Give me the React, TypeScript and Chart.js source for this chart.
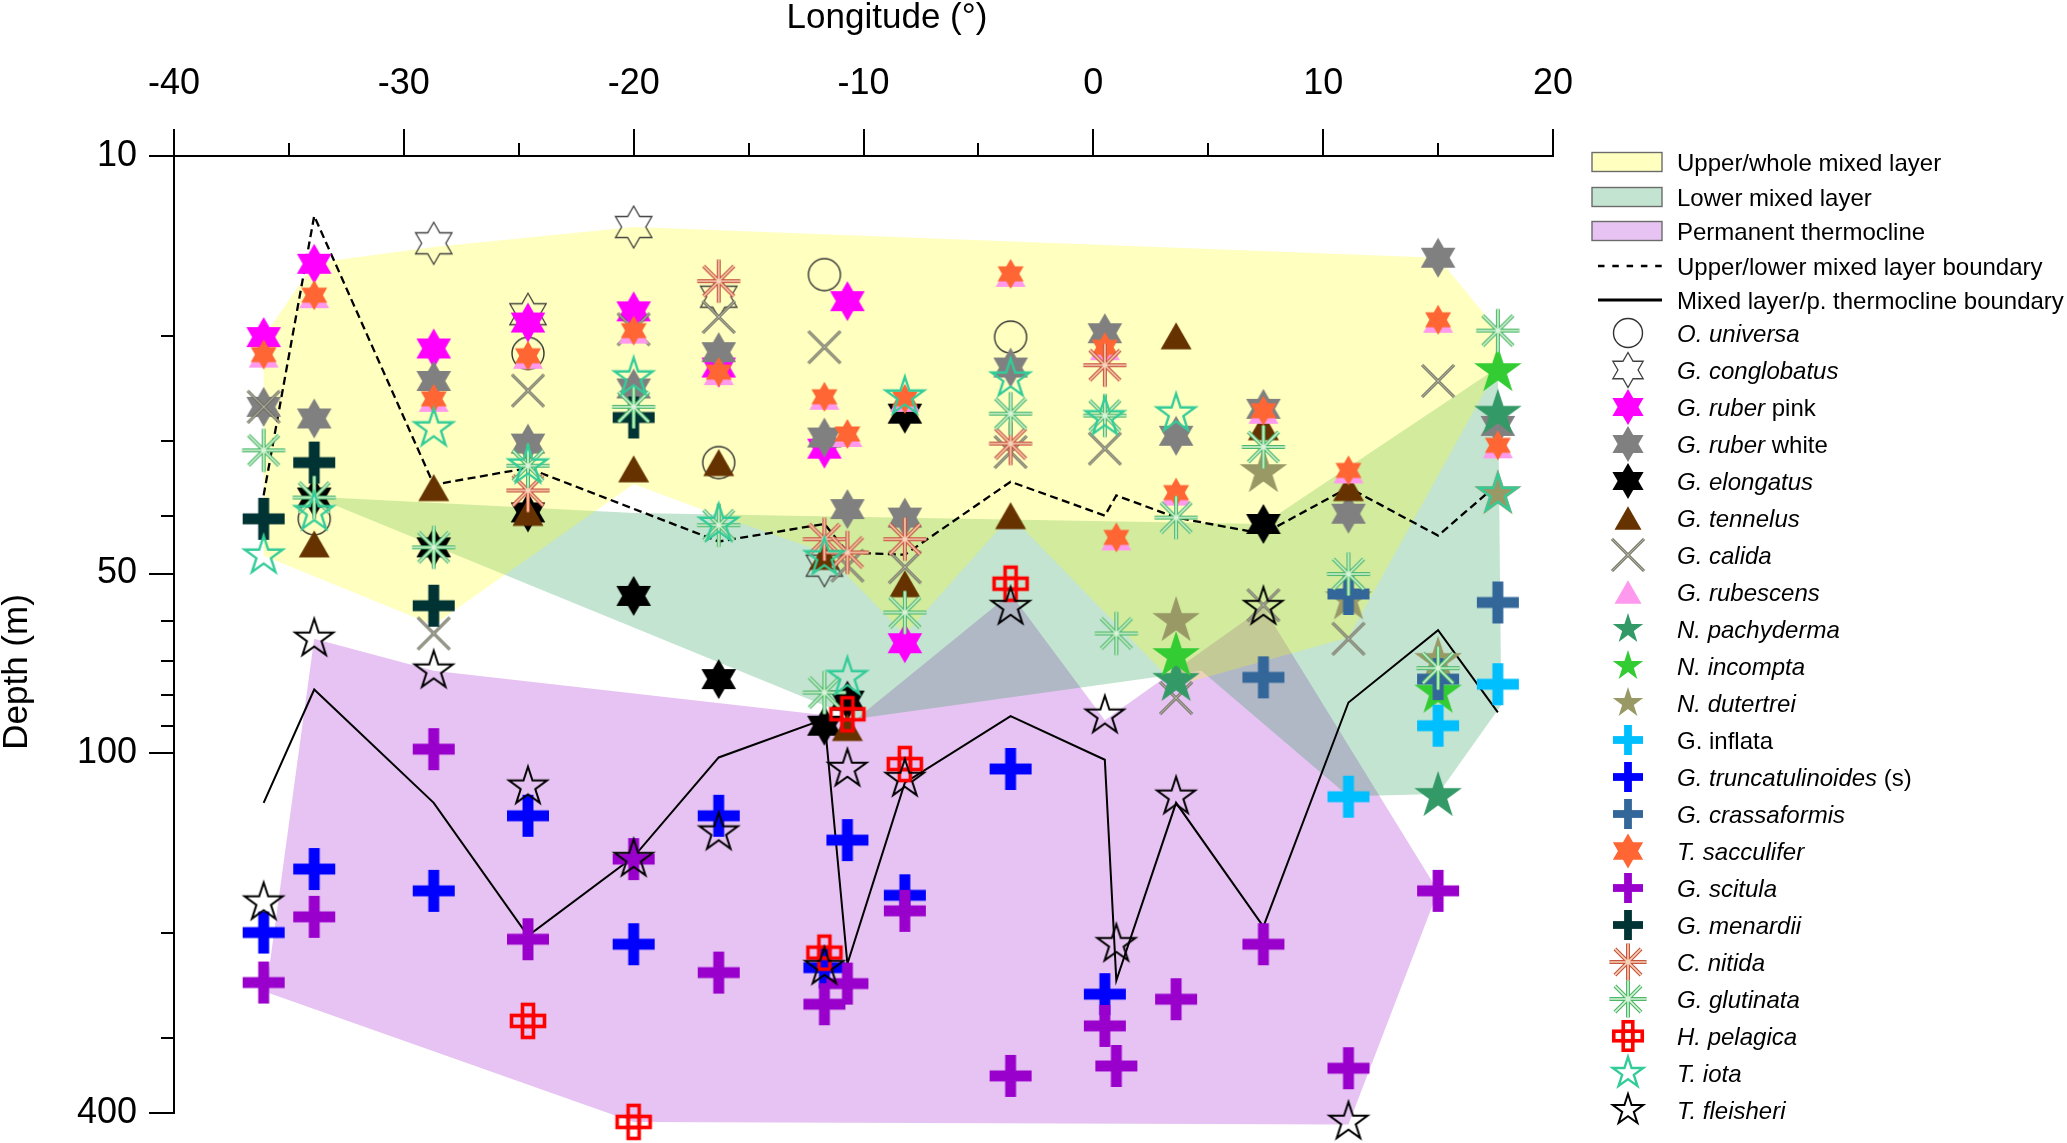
import React, { useEffect, useRef } from 'react';
import { Chart, registerables } from 'chart.js';

Chart.register(...registerables);

const FONT = '"Liberation Sans", Arial, Helvetica, sans-serif';

// ---------- axis ticks ----------
const xTickValues = [-40, -30, -20, -10, 0, 10, 20];
const xMinorTickValues = [-35, -25, -15, -5, 5, 15];
const yTickValues = [10, 20, 30, 40, 50, 60, 70, 80, 90, 100, 200, 300, 400];
const yLabelValues = [10, 50, 100, 400];

// ---------- boundary lines [longitude, depth] ----------
const upperLowerBoundary = [[-36.1, 37.0], [-33.9, 12.6], [-28.7, 35.5], [-24.6, 33.3], [-16.3, 44.2], [-11.7, 41.3], [-10.7, 46.1], [-8.2, 46.5], [-3.6, 35.1], [0.5, 40.0], [1.0, 37.0], [3.6, 40.3], [7.4, 42.9], [11.1, 35.9], [15.0, 43.2], [17.6, 35.4]];
const mixedThermoBoundary = [[-36.1, 121], [-33.9, 78.2], [-28.7, 121], [-24.6, 202], [-20.0, 149], [-16.3, 101.6], [-11.7, 87.6], [-10.7, 225], [-8.2, 112], [-3.6, 86.6], [0.5, 102.5], [1.0, 240], [3.6, 121], [7.4, 195], [11.1, 82.2], [15.0, 62.2], [17.6, 85.4]];

// ---------- layer outlines [longitude, depth] ----------
const upperLayerOutline = [[-33.9, 15.1], [-28.7, 14.2], [-20.0, 13.15], [15.0, 14.8], [17.6, 19.6], [17.6, 22.6], [11.1, 64], [3.6, 77], [-3.6, 40.0], [-8.2, 63.3], [-11.7, 46], [-16.3, 40], [-20.0, 35.4], [-28.7, 61], [-36.1, 46.7], [-36.1, 20.1]];
const lowerLayerOutline = [[-33.9, 37.2], [-20.0, 39.6], [7.4, 41.3], [17.6, 22.6], [17.75, 83], [15.0, 117], [11.1, 118], [4.7, 72.7], [-10.3, 87.5]];
const thermoclineOutline = [[-36.0, 251], [-33.9, 64.3], [-28.7, 72.7], [-10.3, 87.5], [-3.6, 54], [0.5, 88], [7.4, 57], [15.0, 170], [11.1, 418], [-20.0, 414]];

// ---------- species [longitude, depth] ----------
const oUniversa = [[-33.9, 40.5], [-24.6, 21.4], [-16.3, 32.6], [-11.7, 15.8], [-3.6, 20.1]];
const gConglobatus = [[-28.7, 14.0], [-24.6, 18.4], [-20.0, 13.15], [-16.3, 17.2], [-11.7, 48.5]];
const gRuberPink = [[-36.1, 20.1], [-33.9, 15.15], [-28.7, 21.0], [-24.6, 19.0], [-20.0, 18.2], [-16.3, 22.6], [-11.7, 30.9], [-10.7, 17.5], [-8.2, 65.4]];
const gRuberWhite = [[-36.1, 26.3], [-33.9, 27.5], [-28.7, 23.8], [-24.6, 30.3], [-20.0, 24.5], [-16.3, 21.3], [-11.7, 29.6], [-10.7, 39.0], [-8.2, 40.3], [-3.6, 22.6], [0.5, 19.8], [3.6, 29.4], [7.4, 26.5], [11.1, 39.7], [15.0, 14.8], [17.6, 28.3]];
const gElongatus = [[-33.9, 37.3], [-28.7, 45.2], [-24.6, 39.5], [-20.0, 54.5], [-16.3, 75.1], [-11.7, 89.9], [-10.7, 81.6], [-8.2, 27.0], [7.4, 41.3]];
const gTennelus = [[-33.9, 44.6], [-28.7, 35.9], [-24.6, 39.5], [-20.0, 33.4], [-16.3, 32.6], [-11.7, 46.8], [-10.7, 90.5], [-8.2, 52.0], [-3.6, 40.0], [3.6, 20.0], [7.4, 28.4], [11.1, 35.9]];
const gCalida = [[-36.1, 26.3], [-28.7, 63], [-24.6, 24.7], [-20.0, 19.5], [-16.3, 18.6], [-11.7, 20.9], [-10.7, 48.5], [-8.2, 48.8], [-3.6, 31.3], [0.5, 30.9], [3.6, 80.8], [7.4, 56.5], [11.1, 64.3], [15.0, 23.8]];
const gRubescens = [[-36.1, 21.5], [-33.9, 17.1], [-28.7, 25.5], [-24.6, 21.6], [-20.0, 19.6], [-16.3, 23.0], [-11.7, 25.3], [-10.7, 29.2], [-8.2, 25.5], [-3.6, 15.75], [0.5, 20.9], [1.0, 43.5], [3.6, 36.6], [7.4, 26.7], [11.1, 33.6], [15.0, 18.8], [17.6, 30.5]];
const nPachyderma = [[3.6, 75.6], [15.0, 117.8], [17.6, 27.0]];
const nIncompta = [[3.6, 68.7], [15.0, 79.1], [17.6, 22.9]];
const nDutertrei = [[3.6, 60], [7.4, 33.8], [11.1, 55.2], [15.0, 70.0], [17.6, 36.8]];
const gInflata = [[11.1, 118.2], [15.0, 89.9], [17.6, 76.6]];
const gTruncatulinoides = [[-36.1, 199.5], [-33.9, 156.2], [-28.7, 169.9], [-24.6, 127.2], [-20.0, 208.7], [-16.3, 127.2], [-11.7, 228.4], [-10.7, 139.7], [-8.2, 172.8], [-3.6, 106.2], [0.5, 253]];
const gCrassaformis = [[7.4, 74.6], [11.1, 54.1], [15.0, 75.1], [17.6, 55.9]];
const tSacculifer = [[-36.1, 21.5], [-33.9, 17.1], [-28.7, 25.5], [-24.6, 21.6], [-20.0, 19.6], [-16.3, 23.0], [-11.7, 25.3], [-10.7, 29.2], [-8.2, 25.5], [-3.6, 15.75], [0.5, 20.9], [1.0, 43.5], [3.6, 36.6], [7.4, 26.7], [11.1, 33.6], [15.0, 18.8], [17.6, 30.5]];
const gScitula = [[-36.1, 241.9], [-33.9, 187.8], [-28.7, 98.4], [-24.6, 204.7], [-20.0, 150.3], [-16.3, 232.8], [-11.7, 263], [-10.7, 242.9], [-8.2, 183.5], [-3.6, 346.7], [0.5, 285.9], [1.0, 333.7], [3.6, 258], [7.4, 208.7], [11.1, 336.6], [15.0, 169.9]];
const gMenardii = [[-36.1, 40.5], [-33.9, 32.6], [-28.7, 56.6], [-20.0, 27.4]];
const cNitida = [[-24.6, 36.3], [-16.3, 16.2], [-11.7, 43.8], [-10.7, 46.1], [-8.2, 43.8], [-3.6, 30.3], [0.5, 22.4]];
const gGlutinata = [[-36.1, 31.1], [-33.9, 37.3], [-28.7, 45.2], [-24.6, 33.0], [-20.0, 26.3], [-16.3, 41.5], [-11.7, 79.1], [-8.2, 58.1], [-3.6, 27.0], [0.5, 27.2], [1.0, 63], [3.6, 40.3], [7.4, 30.7], [11.1, 50.1], [15.0, 72.0], [17.6, 19.6]];
const hPelagica = [[-24.6, 280.5], [-20.0, 414], [-11.7, 215.6], [-10.7, 86.0], [-8.2, 104.2], [-3.6, 52.0]];
const tIota = [[-36.1, 46.7], [-33.9, 39.5], [-28.7, 28.6], [-24.6, 33.0], [-20.0, 23.5], [-16.3, 41.3], [-11.7, 47.0], [-10.7, 74.6], [-8.2, 25.3], [-3.6, 23.6], [0.5, 27.4], [3.6, 27.0], [17.6, 36.8]];
const tFleisheri = [[-36.1, 177.7], [-33.9, 64.3], [-28.7, 72.7], [-24.6, 113.7], [-20.0, 150.3], [-16.3, 135.7], [-11.7, 228], [-10.7, 106.2], [-8.2, 110.4], [-3.6, 56.9], [0.5, 86.5], [1.0, 208.7], [3.6, 118.2], [7.4, 56.9], [11.1, 414]];

// ---------- styles ----------
// legend order: upper, lower, thermocline; drawn thermocline first, upper last (translucent)
const layers = [
  { label: 'Upper/whole mixed layer', outline: upperLayerOutline, fill: 'rgba(255,255,13,0.26)', box: '#FFFFC0' },
  { label: 'Lower mixed layer', outline: lowerLayerOutline, fill: 'rgba(37,158,87,0.28)', box: '#C2E4D0' },
  { label: 'Permanent thermocline', outline: thermoclineOutline, fill: '#E6C3F2', box: '#E6C3F2' },
];

const species: any[] = [
  { it: 'O. universa', up: '', data: oUniversa, kind: 'circle', color: '#333333', size: 16, lsize: 14.5 },
  { it: 'G. conglobatus', up: '', data: gConglobatus, kind: 'hexOutline', color: '#404040', size: 21, lsize: 17.5 },
  { it: 'G. ruber', up: ' pink', data: gRuberPink, kind: 'hex', color: '#FF00FF', size: 20, lsize: 18 },
  { it: 'G. ruber', up: ' white', data: gRuberWhite, kind: 'hex', color: '#808080', size: 20, lsize: 18 },
  { it: 'G. elongatus', up: '', data: gElongatus, kind: 'hex', color: '#000000', size: 20, lsize: 18 },
  { it: 'G. tennelus', up: '', data: gTennelus, kind: 'tri', color: '#663300', size: 31, lsize: 27 },
  { it: 'G. calida', up: '', data: gCalida, kind: 'x', color: '#606052', inner: '#B4B4A4', size: 16, lsize: 16 },
  { it: 'G. rubescens', up: '', data: gRubescens, kind: 'tri', color: '#FF99EE', size: 30, lsize: 27 },
  { it: 'N. pachyderma', up: '', data: nPachyderma, kind: 'star5', color: '#339966', size: 25, lsize: 16 },
  { it: 'N. incompta', up: '', data: nIncompta, kind: 'star5', color: '#33CC33', size: 25, lsize: 16 },
  { it: 'N. dutertrei', up: '', data: nDutertrei, kind: 'star5', color: '#999966', size: 25, lsize: 16 },
  { it: '', up: 'G. inflata', data: gInflata, kind: 'plus', color: '#00BFFF', size: 42, lsize: 30 },
  { it: 'G. truncatulinoides', up: ' (s)', data: gTruncatulinoides, kind: 'plus', color: '#0000FF', size: 42, lsize: 30 },
  { it: 'G. crassaformis', up: '', data: gCrassaformis, kind: 'plus', color: '#336699', size: 42, lsize: 30 },
  { it: 'T. sacculifer', up: '', data: tSacculifer, kind: 'hex', color: '#FF6633', size: 15, lsize: 17.5 },
  { it: 'G. scitula', up: '', data: gScitula, kind: 'plus', color: '#9900CC', size: 42, lsize: 30 },
  { it: 'G. menardii', up: '', data: gMenardii, kind: 'plus', color: '#003333', size: 42, lsize: 30 },
  { it: 'C. nitida', up: '', data: cNitida, kind: 'asterisk', color: '#C8553D', inner: '#F6D2B8', size: 21.5, lsize: 18.5 },
  { it: 'G. glutinata', up: '', data: gGlutinata, kind: 'asterisk', color: '#4DB86A', inner: '#D8F3D8', size: 21.5, lsize: 18.5 },
  { it: 'H. pelagica', up: '', data: hPelagica, kind: 'crossOutline', color: '#FF0000', size: 11, lsize: 9.5 },
  { it: 'T. iota', up: '', data: tIota, kind: 'star5Outline', color: '#33CC99', size: 20, lsize: 16, lw: 2.4 },
  { it: 'T. fleisheri', up: '', data: tFleisheri, kind: 'star5Outline', color: '#000000', size: 20, lsize: 16, lw: 2 },
];

function drawMarker(ctx: any, sp: any, size: number, cx: number, cy: number) {
  ctx.save();
  ctx.translate(cx, cy);
  const kind = sp.kind;
  if (kind === 'circle') {
    ctx.beginPath();
    ctx.arc(0, 0, size, 0, Math.PI * 2);
    ctx.strokeStyle = sp.color;
    ctx.lineWidth = 1.4;
    ctx.stroke();
  } else if (kind === 'hex' || kind === 'hexOutline') {
    const R = size, r = size / Math.sqrt(3);
    ctx.beginPath();
    for (let k = 0; k < 12; k++) {
      const a = -Math.PI / 2 + (k * Math.PI) / 6;
      const rad = k % 2 === 0 ? R : r;
      const px = rad * Math.cos(a), py = rad * Math.sin(a);
      if (k) ctx.lineTo(px, py); else ctx.moveTo(px, py);
    }
    ctx.closePath();
    if (kind === 'hex') { ctx.fillStyle = sp.color; ctx.fill(); }
    else { ctx.strokeStyle = sp.color; ctx.lineWidth = 1.3; ctx.stroke(); }
  } else if (kind === 'tri') {
    const w = size, h = size * 0.87;
    ctx.beginPath();
    ctx.moveTo(0, -h / 2);
    ctx.lineTo(w / 2, h / 2);
    ctx.lineTo(-w / 2, h / 2);
    ctx.closePath();
    ctx.fillStyle = sp.color;
    ctx.fill();
  } else if (kind === 'x') {
    const h = size;
    ctx.beginPath();
    ctx.moveTo(-h, -h); ctx.lineTo(h, h);
    ctx.moveTo(-h, h); ctx.lineTo(h, -h);
    ctx.strokeStyle = sp.color;
    ctx.lineWidth = 3;
    ctx.stroke();
    ctx.strokeStyle = sp.inner;
    ctx.lineWidth = 1.1;
    ctx.stroke();
  } else if (kind === 'star5' || kind === 'star5Outline') {
    const R = size, r = size * 0.382;
    ctx.beginPath();
    for (let k = 0; k < 10; k++) {
      const a = -Math.PI / 2 + (k * Math.PI) / 5;
      const rad = k % 2 === 0 ? R : r;
      const px = rad * Math.cos(a), py = rad * Math.sin(a);
      if (k) ctx.lineTo(px, py); else ctx.moveTo(px, py);
    }
    ctx.closePath();
    if (kind === 'star5') { ctx.fillStyle = sp.color; ctx.fill(); }
    else { ctx.strokeStyle = sp.color; ctx.lineWidth = sp.lw || 2; ctx.lineJoin = 'miter'; ctx.stroke(); }
  } else if (kind === 'plus') {
    const L = size, t = size * 0.26;
    ctx.fillStyle = sp.color;
    ctx.fillRect(-t / 2, -L / 2, t, L);
    ctx.fillRect(-L / 2, -t / 2, L, t);
  } else if (kind === 'asterisk') {
    const R = size;
    const angles = [0, Math.PI / 4, Math.PI / 2, (3 * Math.PI) / 4];
    ctx.beginPath();
    angles.forEach((a) => {
      ctx.moveTo(-R * Math.cos(a), -R * Math.sin(a));
      ctx.lineTo(R * Math.cos(a), R * Math.sin(a));
    });
    ctx.strokeStyle = sp.color;
    ctx.lineWidth = 4;
    ctx.stroke();
    ctx.strokeStyle = sp.inner;
    ctx.lineWidth = 1.6;
    ctx.stroke();
  } else if (kind === 'crossOutline') {
    const c = size;
    const cells = [[0, 0], [0, -c], [0, c], [-c, 0], [c, 0]];
    ctx.strokeStyle = sp.color;
    ctx.lineWidth = 3.6;
    cells.forEach(([x, y]) => ctx.strokeRect(x - c / 2, y - c / 2, c, c));
  }
  ctx.restore();
}

function makeMarkerCanvas(sp: any) {
  const cv = document.createElement('canvas');
  cv.width = 64;
  cv.height = 64;
  const ctx = cv.getContext('2d');
  drawMarker(ctx, sp, sp.size, 32, 32);
  return cv;
}

function drawLabel(ctx: any, it: string, up: string, x: number, y: number) {
  ctx.fillStyle = '#000';
  ctx.textAlign = 'left';
  ctx.textBaseline = 'alphabetic';
  let cx = x;
  if (it) {
    ctx.font = `italic 24px ${FONT}`;
    ctx.fillText(it, cx, y);
    cx += ctx.measureText(it).width;
  }
  if (up) {
    ctx.font = `24px ${FONT}`;
    ctx.fillText(up, cx, y);
  }
}

const layerPlugin = {
  id: 'layerFill',
  beforeDatasetsDraw(chart: any) {
    const { ctx, scales } = chart;
    const xs = scales.x, ys = scales.y;
    ctx.save();
    [...layers].reverse().forEach((l) => {
      ctx.beginPath();
      l.outline.forEach(([lon, d], i) => {
        const px = xs.getPixelForValue(lon), py = ys.getPixelForValue(d);
        if (i) ctx.lineTo(px, py); else ctx.moveTo(px, py);
      });
      ctx.closePath();
      ctx.fillStyle = l.fill;
      ctx.fill();
    });
    ctx.restore();
  },
};

const decorPlugin = {
  id: 'decor',
  afterDraw(chart: any) {
    const { ctx, chartArea, scales } = chart;
    const xs = scales.x, ys = scales.y;
    ctx.save();
    ctx.strokeStyle = '#000';
    ctx.lineWidth = 2;
    ctx.beginPath();
    xTickValues.forEach((v) => {
      const px = Math.round(xs.getPixelForValue(v));
      ctx.moveTo(px, chartArea.top);
      ctx.lineTo(px, chartArea.top - 27);
    });
    xMinorTickValues.forEach((v) => {
      const px = Math.round(xs.getPixelForValue(v));
      ctx.moveTo(px, chartArea.top);
      ctx.lineTo(px, chartArea.top - 13);
    });
    yTickValues.forEach((v) => {
      const py = Math.round(ys.getPixelForValue(v));
      const len = yLabelValues.includes(v) ? 25 : 13;
      ctx.moveTo(chartArea.left, py);
      ctx.lineTo(chartArea.left - len, py);
    });
    ctx.stroke();

    // axis titles
    ctx.fillStyle = '#000';
    ctx.font = `35px ${FONT}`;
    ctx.textAlign = 'center';
    ctx.textBaseline = 'alphabetic';
    ctx.fillText('Longitude (°)', 887, 28);
    ctx.save();
    ctx.translate(27, 672);
    ctx.rotate(-Math.PI / 2);
    ctx.fillText('Depth (m)', 0, 0);
    ctx.restore();

    // legend
    const boxX = 1592, boxW = 70, boxH = 19, textX = 1677;
    const layerRows = [162, 197, 231];
    layers.forEach((l, i) => {
      const y = layerRows[i];
      ctx.fillStyle = l.box;
      ctx.fillRect(boxX, y - boxH / 2, boxW, boxH);
      ctx.strokeStyle = '#6b6b6b';
      ctx.lineWidth = 1.4;
      ctx.strokeRect(boxX, y - boxH / 2, boxW, boxH);
      drawLabel(ctx, '', l.label, textX, y + 8.5);
    });
    ctx.strokeStyle = '#000';
    ctx.lineWidth = 2.7;
    ctx.setLineDash([6.5, 7.8]);
    ctx.beginPath();
    ctx.moveTo(1598, 266);
    ctx.lineTo(1664, 266);
    ctx.stroke();
    ctx.setLineDash([]);
    drawLabel(ctx, '', 'Upper/lower mixed layer boundary', textX, 266 + 8.5);
    ctx.lineWidth = 3;
    ctx.beginPath();
    ctx.moveTo(1598, 300);
    ctx.lineTo(1662, 300);
    ctx.stroke();
    drawLabel(ctx, '', 'Mixed layer/p. thermocline boundary', textX, 300 + 8.5);

    species.forEach((sp, i) => {
      const y = 333 + 37 * i;
      drawMarker(ctx, sp, sp.lsize, 1628, y);
      drawLabel(ctx, sp.it, sp.up, textX, y + 8.5);
    });
    ctx.restore();
  },
};

export default function App() {
  const ref = useRef<HTMLCanvasElement>(null);
  useEffect(() => {
    const canvas = ref.current;
    if (!canvas) return;
    const toXY = (arr: number[][]) => arr.map(([x, y]) => ({ x, y }));
    const lineSets: any[] = [
      {
        label: 'Mixed layer/p. thermocline boundary',
        data: toXY(mixedThermoBoundary),
        showLine: true,
        borderColor: '#000',
        borderWidth: 2,
        pointRadius: 0,
        tension: 0,
        fill: false,
        clip: false,
      },
      {
        label: 'Upper/lower mixed layer boundary',
        data: toXY(upperLowerBoundary),
        showLine: true,
        borderColor: '#000',
        borderWidth: 2.3,
        borderDash: [8, 4.5],
        pointRadius: 0,
        tension: 0,
        fill: false,
        clip: false,
      },
    ];
    const speciesSets = species.map((sp) => ({
      label: sp.it + sp.up,
      data: toXY(sp.data),
      showLine: false,
      pointStyle: makeMarkerCanvas(sp),
      pointRadius: 22,
      pointHoverRadius: 22,
      clip: false,
    }));
    const datasets = [...lineSets, ...speciesSets].map((d, i) => ({ ...d, order: -i }));

    const zeroPad = (s: any) => { s.paddingTop = 0; s.paddingBottom = 0; s.paddingLeft = 0; s.paddingRight = 0; };

    const chart = new Chart(canvas, {
      type: 'scatter',
      data: { datasets },
      options: {
        responsive: false,
        animation: false,
        devicePixelRatio: 1,
        events: [],
        layout: { padding: { left: 0, top: 0, right: 514, bottom: 30 } },
        plugins: { legend: { display: false }, tooltip: { enabled: false } },
        scales: {
          x: {
            type: 'linear',
            position: 'top',
            min: -40,
            max: 20,
            afterBuildTicks: (s: any) => { s.ticks = xTickValues.map((v) => ({ value: v })); },
            afterFit: (s: any) => { s.height = 156; zeroPad(s); },
            ticks: {
              callback: (v: any) => String(v),
              font: { family: FONT, size: 36 },
              color: '#000',
              padding: 50,
              maxRotation: 0,
              autoSkip: false,
            },
            grid: { display: true, drawOnChartArea: false, drawTicks: false },
            border: { display: true, color: '#000', width: 2 },
          },
          y: {
            type: 'logarithmic',
            reverse: true,
            min: 10,
            max: 400,
            afterBuildTicks: (s: any) => { s.ticks = yTickValues.map((v) => ({ value: v })); },
            afterFit: (s: any) => { s.width = 174; zeroPad(s); },
            ticks: {
              callback: (v: any) => (yLabelValues.includes(v) ? String(v) : ''),
              font: { family: FONT, size: 36 },
              color: '#000',
              padding: 37,
              autoSkip: false,
            },
            grid: { display: true, drawOnChartArea: false, drawTicks: false },
            border: { display: true, color: '#000', width: 2 },
          },
        },
      } as any,
      plugins: [layerPlugin, decorPlugin],
    } as any);
    return () => chart.destroy();
  }, []);

  return (
    <div style={{ position: 'fixed', left: 0, top: 0, width: 2067, height: 1143, background: '#fff' }}>
      <canvas ref={ref} width={2067} height={1143} style={{ display: 'block' }} />
    </div>
  );
}
